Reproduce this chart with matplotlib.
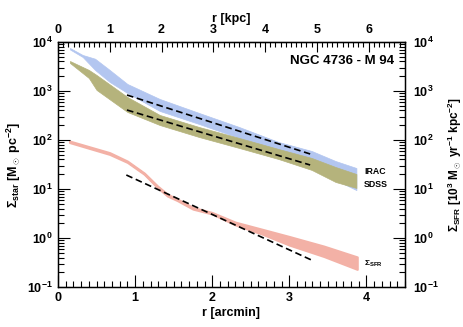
import matplotlib
matplotlib.use("Agg")
import matplotlib.pyplot as plt
from matplotlib.ticker import MultipleLocator, LogLocator, NullFormatter

plt.rcParams['font.family'] = ['Liberation Sans', 'DejaVu Sans']
plt.rcParams['font.weight'] = 'bold'
plt.rcParams['mathtext.fontset'] = 'custom'
plt.rcParams['mathtext.rm'] = 'Liberation Sans:bold'
plt.rcParams['mathtext.it'] = 'Liberation Sans:bold'
plt.rcParams['mathtext.bf'] = 'Liberation Sans:bold'

# radius in arcmin, kpc per arcmin for the top axis
kpc_per_arcmin = 1.49

# IRAC stellar surface density band [Msun pc^-2]
r_irac = [0.155, 0.32, 0.48, 0.67, 0.90, 1.32, 1.83, 2.35, 2.86, 3.29, 3.60, 3.87]
irac_hi = [7550, 5430, 4560, 2690, 1390, 687, 356, 184, 91, 59.7, 37.2, 26.8]
irac_lo = [7040, 4940, 2690, 1530, 910, 391, 212, 110, 62.5, 30.9, 15.3, 9.5]

# SDSS stellar surface density band
r_sdss = [0.155, 0.40, 0.50, 0.90, 1.32, 1.83, 2.35, 2.86, 3.29, 3.60, 3.87]
sdss_hi = [4090, 2690, 2120, 755, 324, 184, 110, 65.5, 43, 28.1, 20.2]
sdss_lo = [3730, 1840, 1050, 373, 202, 115, 68.7, 40.9, 24.5, 13.9, 10.5]

# star formation rate surface density band [1e-3 Msun yr^-1 kpc^-2]
r_sfr = [0.15, 0.67, 0.90, 1.12, 1.29, 1.42, 1.55, 1.75, 2.0, 2.3, 2.65, 3.0, 3.45, 3.88]
sfr_hi = [95, 55, 37, 21, 11.5, 7.8, 6.2, 4.2, 3.3, 2.1, 1.5, 1.07, 0.68, 0.41]
sfr_lo = [89, 51, 35, 20, 10.7, 7.2, 5.8, 3.9, 3.1, 1.86, 1.2, 0.72, 0.42, 0.23]

# exponential fits (end points)
fit_irac_r = [0.894, 3.27]
fit_irac = [828, 51.8]
fit_sdss_r = [0.894, 3.27]
fit_sdss = [409, 30.9]
fit_sfr_r = [0.886, 3.286]
fit_sfr = [19.3, 0.356]

fig = plt.figure(figsize=(4.63, 3.27), dpi=100)
ax = fig.add_axes([0.1253, 0.1223, 0.7494, 0.7493])

ax.fill_between(r_irac, irac_lo, irac_hi, color='#b3c6f0', lw=0.5, ec='#b3c6f0')
ax.fill_between(r_sdss, sdss_lo, sdss_hi, color='#b5b37c', lw=0.5, ec='#b5b37c')
ax.fill_between(r_sfr, sfr_lo, sfr_hi, color='#f3b1a6', lw=1.6, ec='#f3b1a6')

for xr, yv in [(fit_irac_r, fit_irac), (fit_sdss_r, fit_sdss), (fit_sfr_r, fit_sfr)]:
    ax.plot(xr, yv, color='black', lw=1.2, dashes=(4, 2.2))

ax.set_yscale('log')
ax.set_ylim(0.1, 1e4)
ax.set_xlim(0, 4.5)
ax.xaxis.set_major_locator(MultipleLocator(1))
ax.xaxis.set_minor_locator(MultipleLocator(0.1))
ax.yaxis.set_major_locator(LogLocator(base=10))
ax.yaxis.set_minor_locator(LogLocator(base=10, subs=range(2, 10)))
ax.yaxis.set_minor_formatter(NullFormatter())
ax.tick_params(which='both', direction='in', width=0.8, labelsize=9, top=False, right=False)
ax.tick_params(which='major', length=8.5)
ax.tick_params(which='minor', length=4.3)
ax.tick_params(axis='x', pad=3.5)
ax.tick_params(axis='y', pad=4)
for s in ax.spines.values():
    s.set_linewidth(1.0)

ax.set_xlabel('r [arcmin]', fontsize=9, fontweight='bold', labelpad=2)
ax.set_ylabel(r'$\Sigma_{\rm star}$ [M$_\odot$ pc$^{-2}$]', fontsize=9, fontweight='bold', labelpad=3)

top = ax.secondary_xaxis('top', functions=(lambda x: x * kpc_per_arcmin, lambda x: x / kpc_per_arcmin))
top.xaxis.set_major_locator(MultipleLocator(1))
top.xaxis.set_minor_locator(MultipleLocator(0.1))
top.tick_params(which='both', direction='in', width=0.8, labelsize=9, pad=4.5)
top.tick_params(which='major', length=7)
top.tick_params(which='minor', length=3.5)
top.set_xlabel('r [kpc]', fontsize=9, fontweight='bold', labelpad=1)

ax2 = ax.twinx()
ax2.set_yscale('log')
ax2.set_ylim(0.1, 1e4)
ax2.yaxis.set_major_locator(LogLocator(base=10))
ax2.yaxis.set_minor_locator(LogLocator(base=10, subs=range(2, 10)))
ax2.yaxis.set_minor_formatter(NullFormatter())
ax2.tick_params(which='both', direction='in', width=0.8, labelsize=9, pad=5.5)
ax2.tick_params(which='major', length=8.5)
ax2.tick_params(which='minor', length=4.3)
ax2.set_ylabel(r'$\Sigma_{\rm SFR}$ [10$^3$ M$_\odot$ yr$^{-1}$ kpc$^{-2}$]', fontsize=8.5,
               fontweight='bold', labelpad=5)

ax.text(0.968, 0.922, 'NGC 4736 - M 94', transform=ax.transAxes, ha='right', va='center',
        fontsize=9.5, fontweight='bold')
ax.text(3.97, 22.5, 'IRAC', fontsize=6.3, fontweight='bold', va='center')
ax.text(3.97, 12.3, 'SDSS', fontsize=6.3, fontweight='bold', va='center')
ax.text(3.97, 0.30, r'$\Sigma_{\rm SFR}$', fontsize=6, va='center')

fig.savefig('out.png', dpi=100)
